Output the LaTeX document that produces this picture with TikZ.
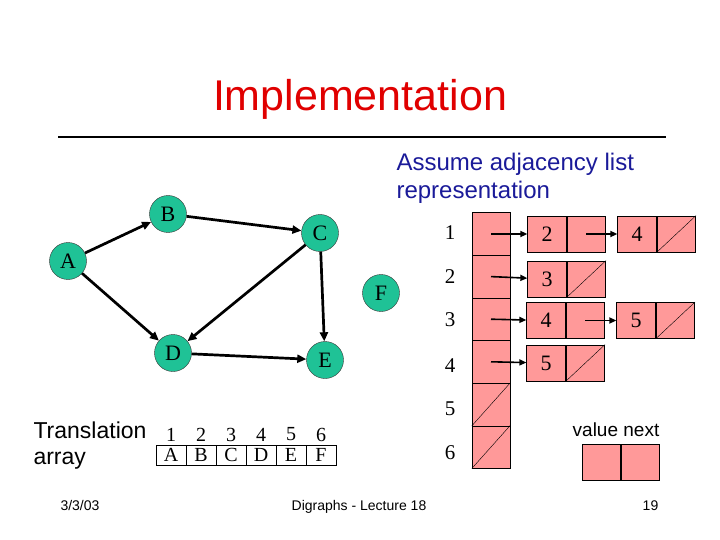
\documentclass[tikz,border=0pt]{standalone}
\usepackage{fontspec}
\setmainfont{Liberation Serif}
\setsansfont{Liberation Sans}
\usetikzlibrary{arrows.meta, positioning}
\definecolor{nodegreen}{HTML}{1FC296}
\definecolor{cellpink}{HTML}{FF9999}
\definecolor{titlered}{HTML}{E00000}
\definecolor{textblue}{HTML}{1A1A99}

\begin{document}
\begin{tikzpicture}[
  x=1pt, y=-1pt,
  vertex/.style={
    circle, draw=black!80, fill=nodegreen, minimum size=37pt,
    inner sep=0pt, font=\fontsize{22}{22}\selectfont
  },
  edge/.style={-{Triangle[length=9pt, width=8pt]}, line width=2.7pt},
  slot/.style={draw, fill=cellpink, minimum width=38pt, minimum height=42.6pt, inner sep=0pt},
  cell/.style={
    draw, fill=cellpink, line width=0.8pt, minimum width=38.5pt,
    minimum height=36pt, inner sep=0pt, font=\fontsize{22}{22}\selectfont
  },
  ptr/.style={-{Triangle[length=7pt, width=6pt]}, line width=1.6pt},
  idx/.style={font=\fontsize{21}{21}\selectfont},
  tcell/.style={draw, minimum width=30pt, minimum height=20pt, inner sep=0pt, font=\fontsize{20}{20}\selectfont},
  sans/.style={font=\sffamily\fontsize{#1}{#1}\selectfont}
]
  \useasboundingbox (0,0) rectangle (720,540);

  % title
  \node[sans=43, text=titlered, anchor=base] (title) at (360,111) {Implementation};
  \draw[line width=1.2pt] (58,137) coordinate (rulel) -- (666,137) coordinate (ruler);

  % graph
  \node[vertex] (A) at (68,261) {A};
  \node[vertex] (B) at (168,214) {B};
  \node[vertex] (C) at (320,233) {C};
  \node[vertex] (D) at (173,353) {D};
  \node[vertex] (E) at (325,360) {E};
  \node[vertex] (F) at (381,293) {F};

  \draw[edge] (A) -- (B);
  \draw[edge] (A) -- (D);
  \draw[edge] (B) -- (C);
  \draw[edge] (C) -- (D);
  \draw[edge] (C) -- (E);
  \draw[edge] (D) -- (E);

  % adjacency list
  \node[sans=24, text=textblue, anchor=base west] (assume) at (393,171) {Assume adjacency list};
  \node[sans=24, text=textblue, anchor=base west] (repr) at (393,198.5) {representation};

  \foreach \i/\y in {1/233, 2/277, 3/320, 4/365.5, 5/409, 6/453} {
    \node[slot] (h\i) at (491, 191.4+42.6*\i) {};
    \node[idx] (i\i) at (450,\y) {\i};
  }
  \draw (h5.south west) -- (h5.north east);
  \draw (h6.south west) -- (h6.north east);

  \node[cell] (v1a) at (547,234) {2};
  \node[cell, right=0pt of v1a] (p1a) {};
  \node[cell] (v1b) at (637,234) {4};
  \node[cell, right=0pt of v1b] (p1b) {};
  \node[cell] (v2a) at (547,279) {3};
  \node[cell, right=0pt of v2a] (p2a) {};
  \node[cell] (v3a) at (546,320.5) {4};
  \node[cell, right=0pt of v3a] (p3a) {};
  \node[cell] (v3b) at (636,320.5) {5};
  \node[cell, right=0pt of v3b] (p3b) {};
  \node[cell] (v4a) at (546,363) {5};
  \node[cell, right=0pt of v4a] (p4a) {};
  \foreach \n in {p1b, p2a, p3b, p4a}
    \draw (\n.south west) -- (\n.north east);

  \draw[ptr] (h1.center) -- (v1a);
  \draw[ptr] (h2.center) -- (v2a);
  \draw[ptr] (h3.center) -- (v3a);
  \draw[ptr] (h4.center) -- (v4a);
  \draw[ptr] (p1a.center) -- (v1b);
  \draw[ptr] (p3a.center) -- (v3b);

  % legend
  \node[cell, minimum width=38pt] (lv) at (601.5,462) {};
  \node[cell, minimum width=38pt, right=0pt of lv] (lp) {};
  \node[sans=19, anchor=base] (legend) at (616,436) {value next};

  % translation array
  \node[sans=23, anchor=base west] (trans) at (30,438.5) {Translation};
  \node[sans=23, anchor=base west] (arr) at (30,464) {array};
  \foreach \i/\c in {1/A, 2/B, 3/C, 4/D, 5/E, 6/F} {
    \node[tcell] (t\i) at (141+30*\i,455) {\c};
    \node[font=\fontsize{20}{20}\selectfont] (n\i) at (141+30*\i,434.5) {\i};
  }

  % footer
  \node[sans=14, anchor=base] (date) at (80,510) {3/3/03};
  \node[sans=14, anchor=base] (course) at (359,510) {Digraphs - Lecture 18};
  \node[sans=14, anchor=base] (page) at (650.5,510) {19};
\end{tikzpicture}
\end{document}
